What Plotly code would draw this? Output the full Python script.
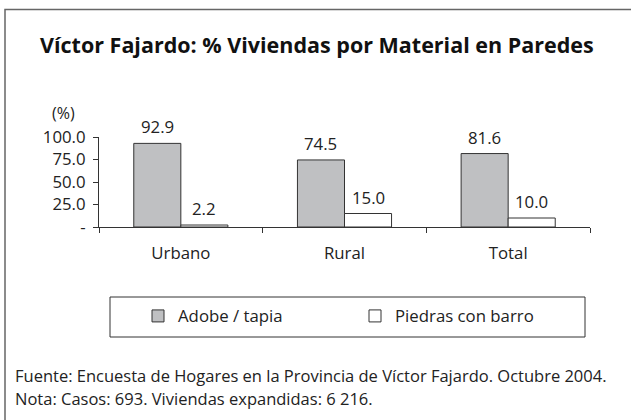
import plotly.graph_objects as go

categories = ["Urbano", "Rural", "Total"]
adobe = [92.9, 74.5, 81.6]
piedras = [2.2, 15.0, 10.0]
series_names = ["Adobe / tapia", "Piedras con barro"]
ytick_vals = [0, 25, 50, 75, 100]
ytick_text = ["-", "25.0", "50.0", "75.0", "100.0"]

FONT = "Open Sans"
TXT = "#222222"
FS = 16.8
W, H = 631, 420
L, T = 99, 137
pw, ph = 491, 90
R, B = W - L - pw, H - T - ph
BARGAP = 0.425

def px(x):
    return (x - L) / pw

def py(y):
    return (H - B - y) / ph

fig = go.Figure()
fig.add_trace(go.Bar(
    x=categories, y=adobe, name=series_names[0],
    marker=dict(color="#BFC0C2", line=dict(color="#333333", width=1)),
))
fig.add_trace(go.Bar(
    x=categories, y=piedras, name=series_names[1],
    marker=dict(color="#FFFFFF", line=dict(color="#333333", width=1)),
))

bar_px = pw / len(categories) * (1 - BARGAP) / 2
annotations = []
for i, vals in enumerate([adobe, piedras]):
    for c, v in zip(categories, vals):
        annotations.append(dict(
            x=c, y=v, xref="x", yref="y", text=f"{v:.1f}", showarrow=False,
            xanchor="center", yanchor="bottom", xshift=(i - 0.5) * bar_px, yshift=3,
            font=dict(family=FONT, size=FS, color=TXT)))

annotations += [
    dict(text="<b>Víctor Fajardo: % Viviendas por Material en Paredes</b>", xref="paper", yref="paper",
         x=px(317), y=py(44), xanchor="center", yanchor="middle", showarrow=False,
         font=dict(family=FONT, size=21.5, color="#111111")),
    dict(text="(%)", xref="paper", yref="paper", x=px(63), y=py(113), xanchor="center",
         yanchor="middle", showarrow=False, font=dict(family=FONT, size=16, color=TXT)),
    dict(text="Fuente: Encuesta de Hogares en la Provincia de Víctor Fajardo. Octubre 2004.",
         xref="paper", yref="paper", x=px(13), y=py(375.5), xanchor="left", yanchor="middle",
         showarrow=False, font=dict(family=FONT, size=16.5, color=TXT)),
    dict(text="Nota: Casos: 693. Viviendas expandidas: 6 216.",
         xref="paper", yref="paper", x=px(13), y=py(398), xanchor="left", yanchor="middle",
         showarrow=False, font=dict(family=FONT, size=16.5, color=TXT)),
]

fig.update_layout(
    width=W, height=H,
    margin=dict(l=L, r=R, t=T, b=B, pad=0),
    paper_bgcolor="white", plot_bgcolor="white",
    barmode="group", bargap=BARGAP, bargroupgap=0,
    font=dict(family=FONT, size=FS, color=TXT),
    hovermode=False,
    showlegend=True,
    legend=dict(orientation="h", x=px(138), xanchor="left", y=py(316), yanchor="middle",
                bgcolor="rgba(0,0,0,0)", borderwidth=0, entrywidth=172,
                font=dict(family=FONT, size=FS, color=TXT), itemclick=False),
    xaxis=dict(showline=True, linecolor="#333333", linewidth=1, ticks="outside",
               tickson="boundaries", ticklen=5, tickcolor="#333333", showgrid=False,
               ticklabelstandoff=11,
               tickfont=dict(family=FONT, size=FS, color=TXT), fixedrange=True),
    yaxis=dict(range=[0, 100], showline=True, linecolor="#333333", linewidth=1,
               ticks="outside", ticklen=5, tickcolor="#333333", showgrid=False,
               zeroline=False, tickvals=ytick_vals, ticktext=ytick_text, ticklabelstandoff=4,
               tickfont=dict(family=FONT, size=FS, color=TXT), fixedrange=True),
    shapes=[
        dict(type="rect", xref="paper", yref="paper", x0=px(5), x1=px(700), y0=py(9.5), y1=py(500),
             line=dict(color="#666666", width=1.5), fillcolor="rgba(0,0,0,0)", layer="below"),
        dict(type="rect", xref="paper", yref="paper", x0=px(110), x1=px(585), y0=py(297), y1=py(337),
             line=dict(color="#333333", width=1), fillcolor="rgba(0,0,0,0)"),
    ],
    annotations=annotations,
)

fig.write_html("out.html", config={"displayModeBar": False},
               post_script="document.body.style.margin='0';")
